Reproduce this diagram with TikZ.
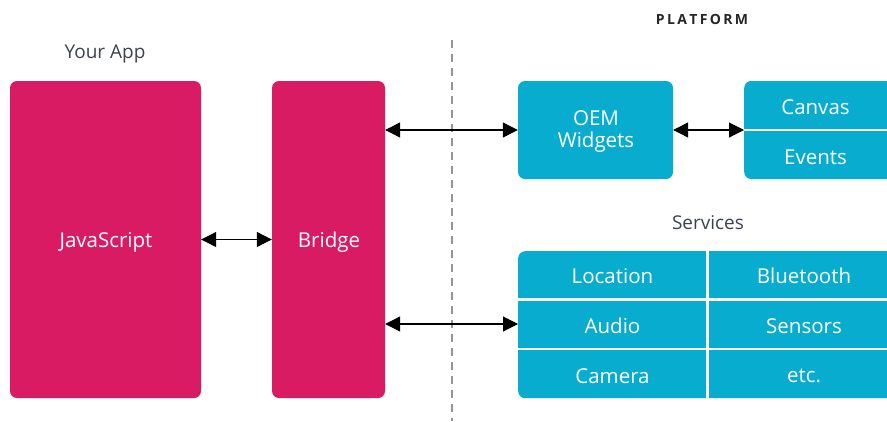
\documentclass[tikz,border=0pt]{standalone}
\usepackage{fontspec}
\setmainfont{Open Sans}
\usetikzlibrary{arrows.meta}
\definecolor{appred}{RGB}{216,27,99}
\definecolor{platblue}{RGB}{8,172,206}
\definecolor{labelgray}{RGB}{60,66,80}
\definecolor{dashgray}{RGB}{150,150,150}
\tikzset{
  appbox/.style={fill=appred, rounded corners=7pt, inner sep=0pt},
  platbox/.style={fill=platblue, rounded corners=7pt, inner sep=0pt},
  boxtext/.style={text=white, font=\fontsize{20.5}{21}\selectfont, align=center, inner sep=0pt},
  cell/.style={boxtext, minimum height=48pt},
  sep/.style={white, line width=2.5pt},
  biarrow/.style={{Triangle[length=15pt,width=15pt]}-{Triangle[length=15pt,width=15pt]}, line width=1.1pt, black},
  grouplabel/.style={text=labelgray, font=\fontsize{19}{21}\selectfont},
}
\begin{document}
\begin{tikzpicture}[x=1pt,y=-1pt]
\useasboundingbox (0,0) rectangle (887,421);
\clip (0,0) rectangle (887,421);
% dashed divider
\coordinate (dtop) at (452,40);
\coordinate (dbot) at (452,421);
\draw[dashgray, line width=1.4pt, dash pattern=on 8pt off 6pt] (dtop) -- (dbot);
% labels
\node[grouplabel] (yourapp) at (105,54) {Your App};
\node[text=black!85, font=\bfseries\fontsize{14}{16}\selectfont] (platform) at (702,19) {P\,L\,A\,T\,F\,O\,R\,M};
\node[grouplabel] (services) at (708,223) {Services};
% app boxes
\node[appbox, minimum width=191pt, minimum height=317pt] (js) at (105.5,239.5) {};
\node[boxtext] (jstext) at (106,242) {JavaScript};
\node[appbox, minimum width=113pt, minimum height=317pt] (bridge) at (328.5,239.5) {};
\node[boxtext] (bridgetext) at (329,242) {Bridge};
% platform boxes
\node[platbox, minimum width=155pt, minimum height=98pt] (oem) at (595.5,130) {};
\node[boxtext, font=\fontsize{20.5}{22}\selectfont] (oemtext) at (596,132) {OEM\\Widgets};
\node[platbox, minimum width=170pt, minimum height=98pt, anchor=west] (ce) at (744,130) {};
\draw[sep] (ce.west) -- (ce.east);
\node[cell, minimum width=143pt] (canvas) at (815.5,107) {Canvas};
\node[cell, minimum width=143pt] (events) at (815.5,157) {Events};
% services grid
\node[platbox, minimum width=400pt, minimum height=147pt, anchor=north west] (svc) at (518,251) {};
\node[cell, minimum width=189pt] (location) at (612.5,276) {Location};
\node[cell, minimum width=189pt] (audio) at (612.5,326) {Audio};
\node[cell, minimum width=189pt] (camera) at (612.5,376) {Camera};
\node[cell, minimum width=180pt] (bluetooth) at (804,276) {Bluetooth};
\node[cell, minimum width=180pt] (sensors) at (804,326) {Sensors};
\node[cell, minimum width=180pt] (etc) at (804,376) {etc.};
\draw[sep] (svc.north west |- 0,299.5) -- (svc.north east |- 0,299.5);
\draw[sep] (svc.north west |- 0,349) -- (svc.north east |- 0,349);
\draw[sep] (707.5,251) -- (707.5,398);
% arrows
\draw[biarrow] (js.east) -- (bridge.west);
\draw[biarrow] (bridge.east |- oem) -- (oem.west);
\draw[biarrow] (oem.east) -- (ce.west);
\draw[biarrow] (bridge.east |- 0,324) -- (svc.west |- 0,324);
\end{tikzpicture}
\end{document}
